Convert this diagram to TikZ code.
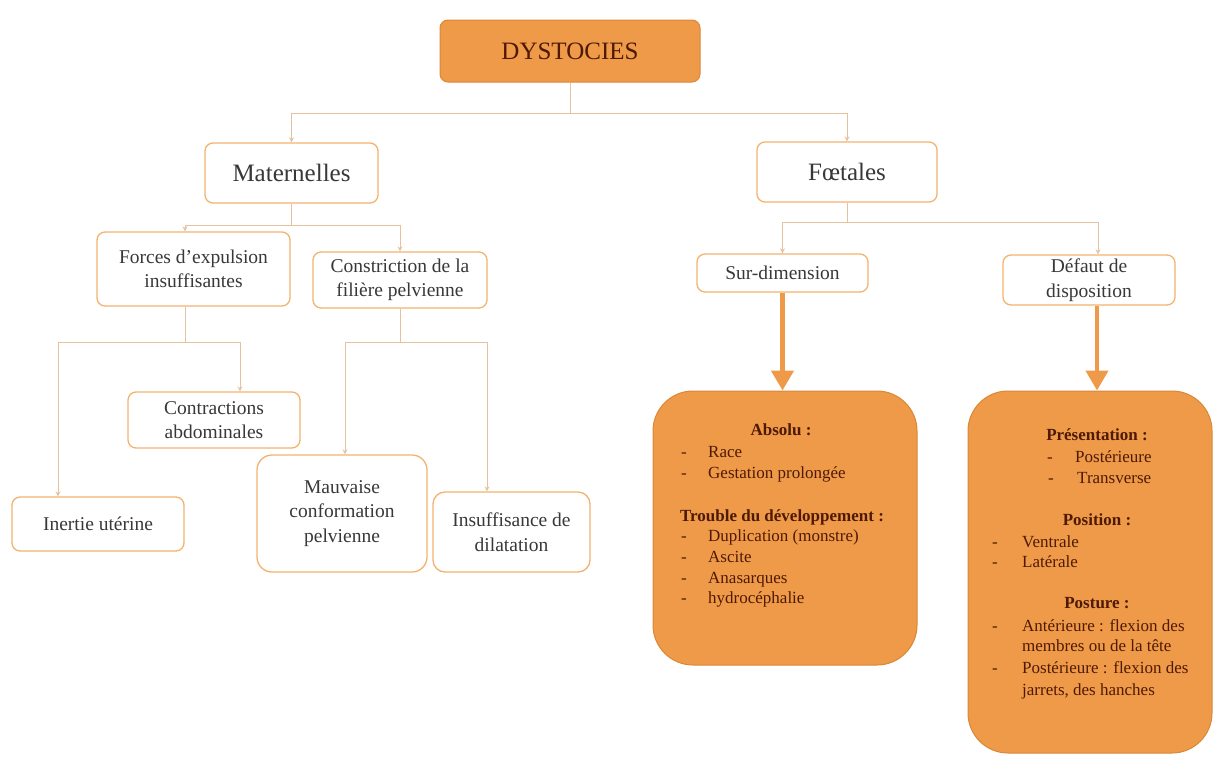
\documentclass[tikz,border=0pt]{standalone}
\usepackage{fontspec}
\setmainfont{Liberation Serif}
\usetikzlibrary{arrows.meta,calc}
\definecolor{orfill}{HTML}{EF9A48}
\definecolor{ordraw}{HTML}{D98836}
\definecolor{orline}{HTML}{F3B26E}
\definecolor{conncol}{HTML}{E6C3A0}
\definecolor{txtbrown}{HTML}{4E1A06}
\definecolor{txtgray}{HTML}{383838}
\newcommand\dit[2][27pt]{\makebox[#1][l]{-}#2}
\begin{document}
\begin{tikzpicture}[x=1pt,y=-1pt,
  bigf/.style={font=\fontsize{25}{30}\selectfont},
  smf/.style={font=\fontsize{19.5}{24.5}\selectfont},
  wbox/.style={draw=orline, line width=1.3pt, fill=white, rounded corners=8pt, align=center, text=txtgray, inner sep=0pt},
  obox/.style={draw=ordraw, fill=orfill, line width=1pt, inner sep=0pt},
  otext/.style={text=txtbrown, inner sep=0pt, anchor=base west, font=\fontsize{17}{21}\selectfont},
  obold/.style={text=txtbrown, inner sep=0pt, anchor=base, font=\fontsize{17}{21}\selectfont\bfseries},
  conn/.style={draw=conncol, line width=1pt},
  carr/.style={conn, -{Stealth[length=5pt,width=5pt]}},
  tarr/.style={draw=orfill, line width=4.5pt, -{Triangle[length=20pt,width=22pt]}}
]
\useasboundingbox (0,0) rectangle (1217,758);

% top
\node[obox, rounded corners=8pt, minimum width=260pt, minimum height=62pt, text=txtbrown, bigf] (dys) at (570,51) {DYSTOCIES};
\node[wbox, bigf, minimum width=173pt, minimum height=60pt] (mat) at (291.5,173) {Maternelles};
\node[wbox, bigf, minimum width=180pt, minimum height=60pt] (foe) at (847,172) {Fœtales};

% maternelles branch
\node[wbox, smf, minimum width=193pt, minimum height=74pt] (forces) at (193.5,269) {Forces d’expulsion\\insuffisantes};
\node[wbox, smf, minimum width=174pt, minimum height=56pt] (constr) at (400,280) {Constriction de la\\filière pelvienne};
\node[wbox, smf, minimum width=172pt, minimum height=56pt] (contr) at (214,420) {Contractions\\abdominales};
\node[wbox, smf, minimum width=172pt, minimum height=54pt] (inertie) at (98,524) {Inertie utérine};
\node[wbox, smf, rounded corners=15pt, minimum width=170pt, minimum height=117pt] (mauv) at (342,513.5) {Mauvaise\\conformation\\pelvienne};
\node[wbox, smf, rounded corners=12pt, minimum width=157pt, minimum height=80pt] (insuf) at (511.5,532) {Insuffisance de\\dilatation};

% foetales branch
\node[wbox, smf, minimum width=171pt, minimum height=38pt] (sur) at (782.5,273) {Sur-dimension};
\node[wbox, smf, minimum width=172pt, minimum height=50pt] (def) at (1089,280) {Défaut de\\disposition};

\node[obox, rounded corners=40pt, minimum width=264pt, minimum height=274pt] (abs) at (785,528) {};
\node[obox, rounded corners=40pt, minimum width=244pt, minimum height=362pt] (disp) at (1090,572) {};

% connectors
\coordinate (j1) at (570,113);
\draw[conn] (dys.south) -- (j1);
\draw[carr] (j1) -| (mat.north);
\draw[carr] (j1) -| (foe.north);

\coordinate (j2) at (291.5,225);
\coordinate (fn) at ($(forces.north)+(-8.5,0)$);
\draw[conn] (mat.south) -- (j2);
\draw[carr] (j2) -| (fn);
\draw[carr] (j2) -| (constr.north);

\coordinate (j3) at (185,342);
\coordinate (fs) at ($(forces.south)+(-8.5,0)$);
\coordinate (cn) at ($(contr.north)+(26,0)$);
\coordinate (in) at ($(inertie.north)+(-40,0)$);
\draw[conn] (fs) -- (j3);
\draw[carr] (j3) -| (cn);
\draw[carr] (j3) -| (in);

\coordinate (j4) at (400,342);
\coordinate (mn) at ($(mauv.north)+(3,0)$);
\coordinate (isn) at ($(insuf.north)+(-24.5,0)$);
\draw[conn] (constr.south) -- (j4);
\draw[carr] (j4) -| (mn);
\draw[carr] (j4) -| (isn);

\coordinate (j5) at (847,222);
\coordinate (dn) at ($(def.north)+(9,0)$);
\draw[conn] (foe.south) -- (j5);
\draw[carr] (j5) -| (sur.north);
\draw[carr] (j5) -| (dn);

\coordinate (ds) at ($(def.south)+(8,0)$);
\draw[tarr] (sur.south) -- (sur.south |- abs.north);
\draw[tarr] (ds) -- (ds |- disp.north);

% Absolu box text
\node[obold] (a-h1) at (781,435) {Absolu :};
\node[otext] (a-1) at (681,457) {\dit{Race}};
\node[otext] (a-2) at (681,478) {\dit{Gestation prolongée}};
\node[obold] (a-h2) at (782,521) {Trouble du développement :};
\node[otext] (a-3) at (681,541) {\dit{Duplication (monstre)}};
\node[otext] (a-4) at (681,562) {\dit{Ascite}};
\node[otext] (a-5) at (681,583) {\dit{Anasarques}};
\node[otext] (a-6) at (681,603) {\dit{hydrocéphalie}};

% disposition box text
\node[obold] (d-h1) at (1097,440) {Présentation :};
\node[otext] (d-1) at (1047,462) {\dit[28pt]{Postérieure}};
\node[otext] (d-2) at (1048,483) {\dit[29pt]{Transverse}};
\node[obold] (d-h2) at (1097,525) {Position :};
\node[otext] (d-3) at (992,547) {\dit[30pt]{Ventrale}};
\node[otext] (d-4) at (992,567) {\dit[30pt]{Latérale}};
\node[obold] (d-h3) at (1097,608) {Posture :};
\node[otext] (d-5) at (992,631) {\dit[30pt]{Antérieure : flexion des}};
\node[otext] (d-6) at (1022,651) {membres ou de la tête};
\node[otext] (d-7) at (992,673) {\dit[30pt]{Postérieure : flexion des}};
\node[otext] (d-8) at (1022,695) {jarrets, des hanches};
\end{tikzpicture}
\end{document}
